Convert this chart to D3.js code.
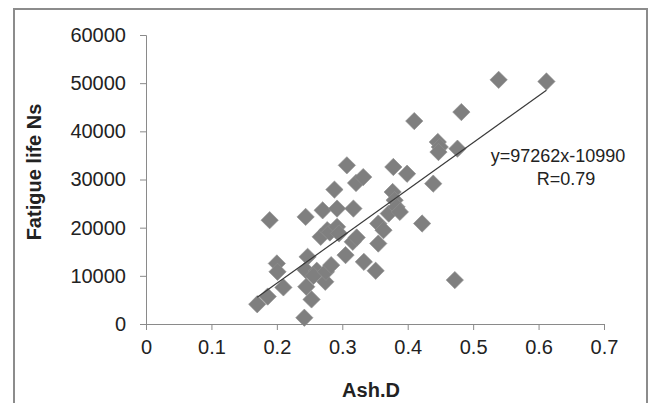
<!DOCTYPE html>
<html>
<head>
<meta charset="utf-8">
<script src="https://cdn.jsdelivr.net/npm/d3@7"></script>
<style>
  html, body { margin: 0; padding: 0; background: #fff; }
  svg text { font-family: "Liberation Sans", Arial, sans-serif; fill: #222; }
</style>
</head>
<body>
<svg id="chart" width="650" height="403"></svg>
<script>
// Ash.D vs fatigue life measurements
const ashD = [0.170, 0.186, 0.189, 0.200, 0.201, 0.210, 0.244, 0.247, 0.244, 0.245, 0.242, 0.253,
  0.261, 0.256, 0.267, 0.270, 0.274, 0.275, 0.283, 0.277, 0.281, 0.288, 0.292, 0.292, 0.295, 0.307,
  0.305, 0.317, 0.316, 0.322, 0.321, 0.332, 0.333, 0.351, 0.355, 0.355, 0.363, 0.371, 0.377, 0.378,
  0.380, 0.383, 0.388, 0.399, 0.410, 0.422, 0.439, 0.446, 0.449, 0.447, 0.476, 0.482, 0.472, 0.539, 0.612];
const fatigueLife = [4100, 5700, 21550, 12570, 10840, 7600, 22240, 13950, 11190, 7730, 1300, 5100,
  11050, 10000, 18100, 23600, 8770, 10840, 12220, 19480, 19000, 27900, 23960, 20170, 18800, 32940,
  14300, 23960, 17060, 17960, 29280, 30500, 12900, 11050, 16700, 20850, 19480, 22930, 27400, 32600,
  25700, 24300, 23270, 31200, 42130, 20860, 29140, 37780, 36740, 35700, 36400, 44000, 9120, 50690, 50340];

// Linear fit reported for the data
const slope = 97262;
const intercept = -10990;
const fitLabel = "y=97262x-10990";
const rLabel = "R=0.79";

const xTicks = [0, 0.1, 0.2, 0.3, 0.4, 0.5, 0.6, 0.7];
const yTicks = [0, 10000, 20000, 30000, 40000, 50000, 60000];

const svg = d3.select("#chart");
const axisColor = "#8a8a8a";

// outer chart frame
svg.append("rect")
  .attr("x", 14).attr("y", 9).attr("width", 633).attr("height", 410)
  .attr("fill", "none").attr("stroke", "#8c8c8c").attr("stroke-width", 2);

const x = d3.scaleLinear().domain([0, 0.7]).range([146, 604]);
const y = d3.scaleLinear().domain([0, 60000]).range([324, 35]);

// y axis
const yAxis = svg.append("g")
  .attr("transform", `translate(${x(0)},0)`)
  .call(d3.axisLeft(y).tickValues(yTicks).tickSize(6).tickPadding(14).tickFormat(d3.format("d")));
// x axis
const xAxis = svg.append("g")
  .attr("transform", `translate(0,${y(0)})`)
  .call(d3.axisBottom(x).tickValues(xTicks).tickSize(6).tickPadding(10).tickFormat(d => d === 0 ? "0" : d3.format(".1f")(d)));

[xAxis, yAxis].forEach(g => {
  g.select(".domain").attr("stroke", axisColor);
  g.selectAll(".tick line").attr("stroke", axisColor);
  g.selectAll(".tick text")
    .attr("fill", "#222")
    .style("font-size", "20px")
    .style("font-family", "'Liberation Sans', Arial, sans-serif");
});

// points as diamonds
const diamond = d3.symbol(d3.symbolSquare, 150)();
const pts = ashD.map((v, i) => [v, fatigueLife[i]]);
svg.append("g").selectAll("path")
  .data(pts)
  .join("path")
  .attr("d", diamond)
  .attr("transform", d => `translate(${x(d[0])},${y(d[1])}) rotate(45)`)
  .attr("fill", "#7f7f7f")
  .attr("stroke", "#8e8e8e")
  .attr("stroke-width", 0.6);

// trend line over the data range
const xMin = d3.min(ashD), xMax = d3.max(ashD);
svg.append("line")
  .attr("x1", x(xMin)).attr("y1", y(slope * xMin + intercept))
  .attr("x2", x(xMax)).attr("y2", y(slope * xMax + intercept))
  .attr("stroke", "#3a3a3a").attr("stroke-width", 1.2);

// equation and correlation
svg.append("text")
  .attr("x", 558).attr("y", 162)
  .attr("text-anchor", "middle")
  .style("font-size", "18px")
  .text(fitLabel);
svg.append("text")
  .attr("x", 566).attr("y", 185)
  .attr("text-anchor", "middle")
  .style("font-size", "18px")
  .text(rLabel);

// axis titles
svg.append("text")
  .attr("x", 371).attr("y", 397)
  .attr("text-anchor", "middle")
  .style("font-size", "20px").style("font-weight", "bold")
  .text("Ash.D");
svg.append("text")
  .attr("transform", "translate(41,172) rotate(-90)")
  .attr("text-anchor", "middle")
  .style("font-size", "20px").style("font-weight", "bold")
  .text("Fatigue life Ns");
</script>
</body>
</html>
